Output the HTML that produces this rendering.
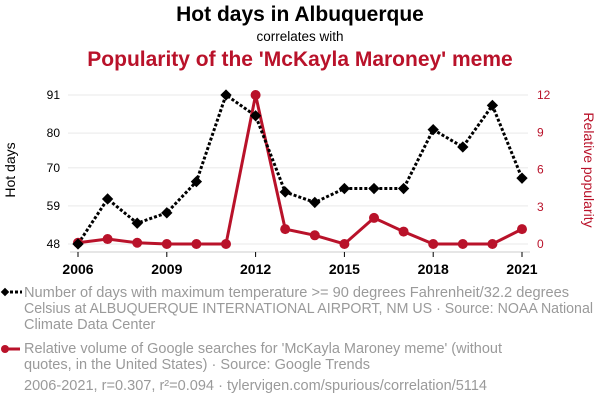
<!DOCTYPE html>
<html><head><meta charset="utf-8"><style>
body{margin:0;background:#fff;font-family:"Liberation Sans",sans-serif;}
svg{display:block}
</style></head><body>
<svg id="chart" width="600" height="408">
<text x="300" y="21" text-anchor="middle" font-size="21" font-weight="bold" fill="#000">Hot days in Albuquerque</text>
<text x="300" y="41" text-anchor="middle" font-size="13.5" fill="#000">correlates with</text>
<text x="300" y="66" text-anchor="middle" font-size="21" font-weight="bold" fill="#b9122a">Popularity of the 'McKayla Maroney' meme</text>
<g id="grid"></g><g id="axes"></g><g id="series"></g>
<text transform="translate(15,170) rotate(-90)" text-anchor="middle" font-size="14" fill="#000">Hot days</text>
<text transform="translate(584,170) rotate(90)" text-anchor="middle" font-size="14" fill="#b9122a">Relative popularity</text>
<g font-size="14.5" fill="#9a9a9a">
<g>
<line x1="5" y1="292" x2="22" y2="292" stroke="#000" stroke-width="3" stroke-dasharray="3,2"/>
<rect x="2" y="289" width="6" height="6" fill="#000" transform="rotate(45 5 292)"/>
<text x="24" y="297" textLength="545" lengthAdjust="spacingAndGlyphs">Number of days with maximum temperature &gt;= 90 degrees Fahrenheit/32.2 degrees</text>
<text x="24" y="313" textLength="569" lengthAdjust="spacingAndGlyphs">Celsius at ALBUQUERQUE INTERNATIONAL AIRPORT, NM US · Source: NOAA National</text>
<text x="24" y="329">Climate Data Center</text></g>
<g>
<line x1="4" y1="349" x2="20" y2="349" stroke="#b9122a" stroke-width="3"/>
<circle cx="5" cy="349" r="4" fill="#b9122a"/>
<text x="24" y="353" textLength="478" lengthAdjust="spacingAndGlyphs">Relative volume of Google searches for 'McKayla Maroney meme' (without</text>
<text x="24" y="369" textLength="346" lengthAdjust="spacingAndGlyphs">quotes, in the United States) · Source: Google Trends</text></g>
<text x="24" y="390" textLength="463" lengthAdjust="spacingAndGlyphs">2006-2021, r=0.307, r²=0.094 · tylervigen.com/spurious/correlation/5114</text>
</g>
</svg>
<script>
const years=[2006,2007,2008,2009,2010,2011,2012,2013,2014,2015,2016,2017,2018,2019,2020,2021];
const hotDays=[48,61,54,57,66,91,85,63,60,64,64,64,81,76,88,67];
const popularity=[0.1,0.4,0.1,0,0,0,12,1.2,0.7,0,2.1,1.0,0,0,0,1.2];
const leftTicks=[48,59,70,80,91];
const rightTicks=[0,3,6,9,12];
const xTicks=[2006,2009,2012,2015,2018,2021];
const NS="http://www.w3.org/2000/svg";
const x=y=>78+(y-2006)*(522-78)/15;
const yL=v=>244-(v-48)*(244-95)/(91-48);
const yR=v=>244-v*(244-95)/12;
function mk(t,a,p){const e=document.createElementNS(NS,t);for(const k in a)e.setAttribute(k,a[k]);p.appendChild(e);return e;}
const grid=document.getElementById('grid'),axes=document.getElementById('axes'),ser=document.getElementById('series');
leftTicks.forEach(v=>{
 const l=mk('line',{x1:68,x2:528,y1:yL(v),y2:yL(v),stroke:'#f0f0f0','stroke-width':1.5},grid);
 
 
 const t=mk('text',{x:60,y:yL(v)+4,'text-anchor':'end','font-size':12,fill:'#000'},axes);t.textContent=v;
 
 
});
rightTicks.forEach(v=>{
 const t=mk('text',{x:537,y:yR(v)+4,'font-size':12,fill:'#b9122a'},axes);t.textContent=v;
 
 
});
const ax=mk('line',{x1:70,x2:530,y1:252,y2:252,stroke:'#ccc','stroke-width':1},axes);


xTicks.forEach(v=>{
 mk('line',{x1:x(v),x2:x(v),y1:252,y2:257,stroke:'#000'},axes);
 const t=mk('text',{x:x(v),y:274,'text-anchor':'middle','font-size':14,'font-weight':'bold',fill:'#000'},axes);t.textContent=v;
 
 
});
const rl=mk('polyline',{points:years.map((y,i)=>x(y)+','+yR(popularity[i])).join(' '),fill:'none',stroke:'#b9122a','stroke-width':3},ser);


const bl=mk('polyline',{points:years.map((y,i)=>x(y)+','+yL(hotDays[i])).join(' '),fill:'none',stroke:'#000','stroke-width':3,'stroke-dasharray':'3,2'},ser);


years.forEach((y,i)=>{
 const c=mk('circle',{cx:x(y),cy:yR(popularity[i]),r:5,fill:'#b9122a'},ser);
 
 
});
years.forEach((y,i)=>{
 const cx=x(y),cy=yL(hotDays[i]);
 const r=mk('rect',{x:cx-4,y:cy-4,width:8,height:8,fill:'#000',transform:`rotate(45 ${cx} ${cy})`},ser);
 
 
});
</script>
</body></html>
